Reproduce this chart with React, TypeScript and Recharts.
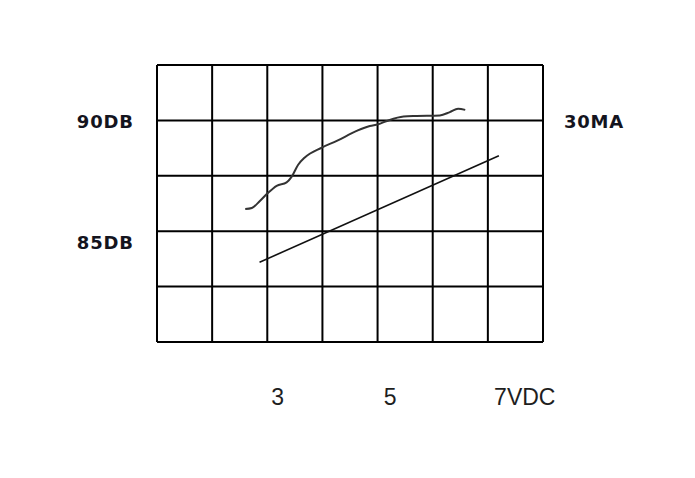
import React from "react";
import { LineChart, Line, XAxis, YAxis, ReferenceLine } from "recharts";

// grid units: x 0..7 columns, y 0..5 rows
const gridCols = [0, 1, 2, 3, 4, 5, 6, 7];
const gridRows = [0, 1, 2, 3, 4, 5];

const wavyX = [1.6, 1.72, 1.87, 2.0, 2.17, 2.35, 2.44, 2.56, 2.68, 2.99, 3.26, 3.62, 3.86, 4.01, 4.17, 4.47, 4.71, 5.13, 5.31, 5.46, 5.59];
const wavyY = [2.4, 2.42, 2.55, 2.68, 2.82, 2.88, 2.98, 3.2, 3.33, 3.51, 3.63, 3.81, 3.9, 3.93, 3.99, 4.07, 4.08, 4.09, 4.15, 4.21, 4.19];

const straightX = [1.86, 6.2];
const straightY = [1.44, 3.36];

const xTickValues = [2.19, 4.23, 6.67];
const xTickLabels = ["3", "5", "7VDC"];
const leftTickValues = [4, 1.83];
const leftTickLabels = ["90DB", "85DB"];
const rightTickValues = [4];
const rightTickLabels = ["30MA"];

const wavyData = wavyX.map((x, i) => ({ x, y: wavyY[i] }));
const straightData = straightX.map((x, i) => ({ x, y: straightY[i] }));

const boldStyle = {
  fontFamily: "'DejaVu Sans', sans-serif",
  fontWeight: 700,
  fontSize: 18,
  letterSpacing: 0.8,
  fill: "#14141e",
};

const LeftTick = (props: any) => {
  const { x, y, payload } = props;
  const idx = leftTickValues.indexOf(payload.value);
  return (
    <text x={x - 51.7} y={y + 8} textAnchor="middle" style={boldStyle}>
      {leftTickLabels[idx]}
    </text>
  );
};

const RightTick = (props: any) => {
  const { x, y, payload } = props;
  const idx = rightTickValues.indexOf(payload.value);
  return (
    <text x={x + 51} y={y + 8} textAnchor="middle" style={boldStyle}>
      {rightTickLabels[idx]}
    </text>
  );
};

const BottomTick = (props: any) => {
  const { x, y, payload } = props;
  const idx = xTickValues.indexOf(payload.value);
  return (
    <text
      x={x}
      y={y + 63}
      textAnchor="middle"
      style={{ fontFamily: "'Liberation Sans', Arial, sans-serif", fontSize: 23, fill: "#1e1e1e" }}
    >
      {xTickLabels[idx]}
    </text>
  );
};

export default function App() {
  return (
    <LineChart
      width={680}
      height={465}
      margin={{ top: 57, left: 89, right: 85, bottom: 101 }}
    >
      <XAxis
        xAxisId="x"
        dataKey="x"
        type="number"
        domain={[0, 7]}
        ticks={xTickValues}
        interval={0}
        allowDataOverflow
        axisLine={false}
        tickLine={false}
        tickSize={0}
        tickMargin={0}
        height={30}
        tick={BottomTick}
      />
      <YAxis
        yAxisId="l"
        type="number"
        domain={[0, 5]}
        ticks={leftTickValues}
        interval={0}
        allowDataOverflow
        axisLine={false}
        tickLine={false}
        tickSize={0}
        tickMargin={0}
        width={60}
        tick={LeftTick}
      />
      <YAxis
        yAxisId="r"
        orientation="right"
        type="number"
        domain={[0, 5]}
        ticks={rightTickValues}
        interval={0}
        allowDataOverflow
        axisLine={false}
        tickLine={false}
        tickSize={0}
        tickMargin={0}
        width={60}
        tick={RightTick}
      />
      {gridCols.map((c) => (
        <ReferenceLine key={"c" + c} x={c} xAxisId="x" yAxisId="l" stroke="#000" strokeWidth={2} ifOverflow="visible" />
      ))}
      {gridRows.map((r) => (
        <ReferenceLine key={"r" + r} y={r} xAxisId="x" yAxisId="l" stroke="#000" strokeWidth={2} ifOverflow="visible" />
      ))}
      <Line
        xAxisId="x"
        yAxisId="l"
        data={wavyData}
        dataKey="y"
        type="monotone"
        stroke="#333"
        strokeWidth={2}
        dot={false}
        isAnimationActive={false}
      />
      <Line
        xAxisId="x"
        yAxisId="l"
        data={straightData}
        dataKey="y"
        type="linear"
        stroke="#111"
        strokeWidth={1.6}
        dot={false}
        isAnimationActive={false}
      />
    </LineChart>
  );
}
